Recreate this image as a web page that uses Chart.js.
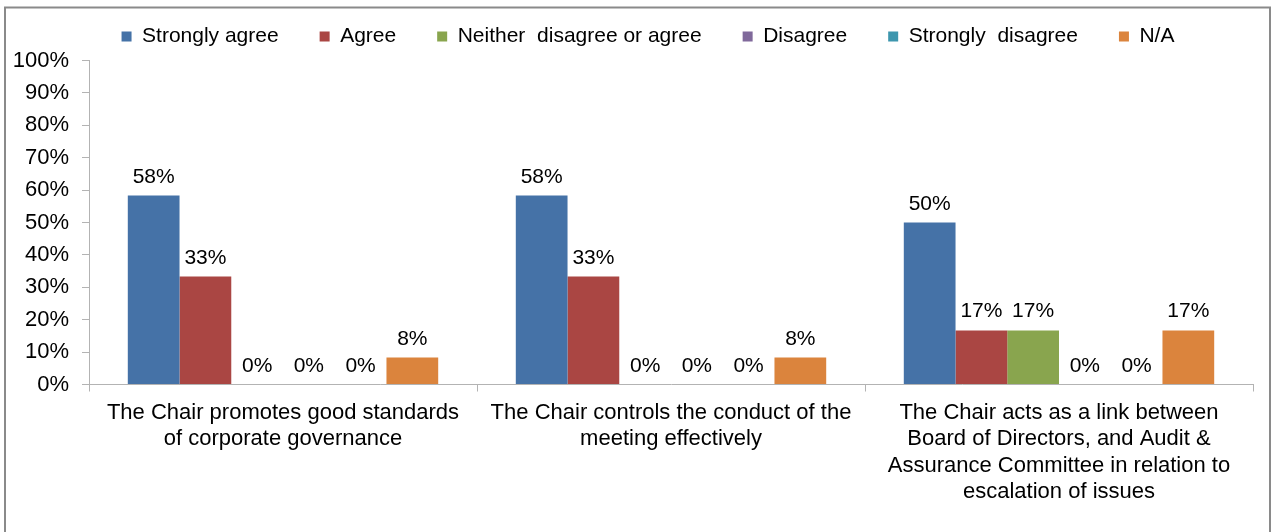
<!DOCTYPE html>
<html>
<head>
<meta charset="utf-8">
<script src="https://cdn.jsdelivr.net/npm/chart.js@4.4.1/dist/chart.umd.min.js"></script>
<style>
html, body { margin: 0; padding: 0; background: #fff; }
canvas { display: block; }
</style>
</head>
<body>
<canvas id="c" width="1274" height="532"></canvas>
<script>
// ---- data ----
const categories = [
  ["The Chair promotes good standards", "of corporate governance"],
  ["The Chair controls the conduct of the", "meeting effectively"],
  ["The Chair acts as a link between", "Board of Directors, and Audit &", "Assurance Committee in relation to", "escalation of issues"]
];
const seriesNames = ["Strongly agree", "Agree", "Neither  disagree or agree", "Disagree", "Strongly  disagree", "N/A"];
const stronglyAgree    = [58.3, 58.3, 50.0];
const agree            = [33.3, 33.3, 16.7];
const neither          = [0, 0, 16.7];
const disagree         = [0, 0, 0];
const stronglyDisagree = [0, 0, 0];
const notApplicable    = [8.3, 8.3, 16.7];
const yTickValues = [0, 10, 20, 30, 40, 50, 60, 70, 80, 90, 100];
const yTickLabels = ["0%", "10%", "20%", "30%", "40%", "50%", "60%", "70%", "80%", "90%", "100%"];

// ---- styles ----
const seriesColors = ["#4572A7", "#AA4643", "#89A54E", "#80699B", "#3D96AE", "#DB843D"];
const axisColor = "#b3b3b3";
const FONT = '"Liberation Sans", Arial, sans-serif';
Chart.defaults.font.family = FONT;
Chart.defaults.color = "#000";

const seriesValues = [stronglyAgree, agree, neither, disagree, stronglyDisagree, notApplicable];

const frame = {
  id: 'frame',
  beforeDraw(chart) {
    const ctx = chart.ctx;
    ctx.save();
    ctx.fillStyle = '#fff';
    ctx.fillRect(0, 0, chart.width, chart.height);
    ctx.strokeStyle = '#8a8a8a';
    ctx.lineWidth = 2;
    ctx.strokeRect(5, 7.5, 1265, 560);
    ctx.restore();
  }
};

const legendBox = {
  id: 'legendBox',
  beforeLayout(chart) {
    const lg = chart.legend;
    if (lg && !lg._patched) {
      const fit = lg.fit;
      lg.fit = function () { fit.call(this); this.height = 75.5; };
      lg._patched = true;
    }
  },
  afterLayout(chart) {
    const lg = chart.legend;
    if (lg) {
      lg.left = 43;
      lg.right = 1253;
      lg.width = lg.right - lg.left;
    }
  }
};

const valueLabels = {
  id: 'valueLabels',
  afterDatasetsDraw(chart) {
    const ctx = chart.ctx;
    ctx.save();
    ctx.font = '21px ' + FONT;
    ctx.fillStyle = '#000';
    ctx.textAlign = 'center';
    ctx.textBaseline = 'alphabetic';
    chart.data.datasets.forEach((ds, i) => {
      const meta = chart.getDatasetMeta(i);
      meta.data.forEach((bar, j) => {
        ctx.fillText(Math.round(ds.data[j]) + '%', bar.x, bar.y - 13);
      });
    });
    ctx.restore();
  }
};

new Chart(document.getElementById('c'), {
  type: 'bar',
  data: {
    labels: categories,
    datasets: seriesNames.map((name, i) => ({
      label: name,
      data: seriesValues[i],
      backgroundColor: seriesColors[i],
      borderWidth: 0,
      categoryPercentage: 0.8,
      barPercentage: 1.0
    }))
  },
  options: {
    responsive: false,
    animation: false,
    layout: { padding: { top: -15, left: 5, right: 21, bottom: 0 } },
    plugins: {
      legend: {
        position: 'top',
        labels: { boxWidth: 10, boxHeight: 10, padding: 41, font: { size: 21 }, color: '#000' }
      },
      tooltip: { enabled: false }
    },
    scales: {
      x: {
        grid: { display: true, drawOnChartArea: false, drawTicks: true, tickLength: 7, color: axisColor, offset: true },
        border: { display: true, color: axisColor, width: 1 },
        ticks: { font: { size: 22, lineHeight: 1.2 }, color: '#000', padding: 8, maxRotation: 0, minRotation: 0, autoSkip: false },
        afterFit(scale) { scale.height = 147.5; }
      },
      y: {
        min: 0, max: 100,
        afterBuildTicks(scale) { scale.ticks = yTickValues.map(v => ({ value: v })); },
        ticks: { font: { size: 22 }, color: '#000', padding: 13, callback: (v) => yTickLabels[yTickValues.indexOf(v)] },
        grid: { drawOnChartArea: false, drawTicks: true, tickLength: 7, color: axisColor },
        border: { display: true, color: axisColor, width: 1 },
        afterFit(scale) { scale.width = 84; }
      }
    }
  },
  plugins: [frame, legendBox, valueLabels]
});
</script>
</body>
</html>
